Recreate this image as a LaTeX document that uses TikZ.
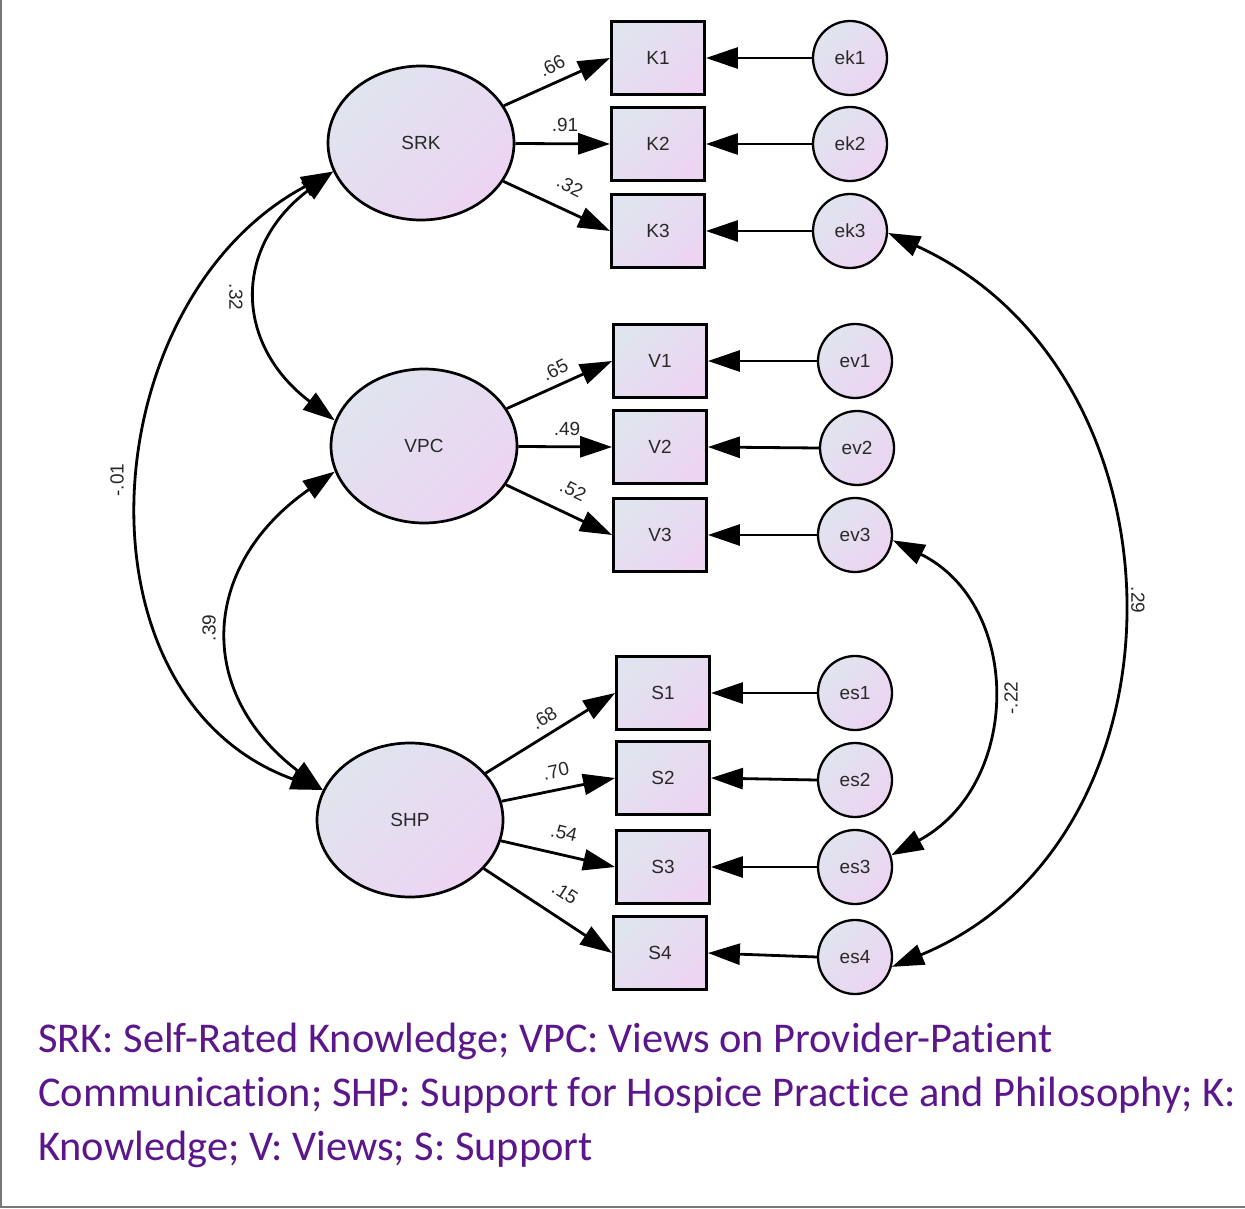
\documentclass[tikz,border=0pt]{standalone}
\usepackage{fontspec}
\setmainfont{Liberation Sans}
\newfontfamily\capfont[Ligatures=NoCommon]{Carlito}
\usetikzlibrary{arrows.meta,shapes.geometric}
\definecolor{fillA}{RGB}{224,228,238}
\definecolor{fillB}{RGB}{236,212,242}
\definecolor{captxt}{RGB}{92,22,140}
\definecolor{lbl}{RGB}{40,40,40}
\definecolor{framec}{RGB}{120,120,120}
\begin{document}
\begin{tikzpicture}[x=1pt,y=-1pt,
 every node/.style={font=\fontsize{19}{22}\selectfont, text=lbl},
 shadedfill/.style={left color=fillA,right color=fillB,shading angle=45},
 latent/.style={ellipse, draw, line width=2.7pt, minimum width=186pt, minimum height=154pt, inner sep=0pt, shadedfill},
 obs/.style={rectangle, draw, line width=2.8pt, minimum width=93pt, minimum height=73pt, inner sep=0pt, shadedfill},
 err/.style={circle, draw, line width=2.3pt, minimum size=74pt, inner sep=0pt, shadedfill},
 path1/.style={line width=2.8pt, -{Triangle[length=32pt,width=21pt]}},
 path2/.style={line width=2.8pt, {Triangle[length=32pt,width=21pt]}-{Triangle[length=32pt,width=21pt]}},
 coef/.style={inner sep=0pt},
 captext/.style={anchor=base west, inner sep=0pt, text=captxt, font=\capfont\fontsize{42.4}{54}\selectfont},
]
\useasboundingbox (0,0) rectangle (1245,1209);
\draw[framec, line width=2pt] (1,0) -- (1,1207) -- (1245,1207);

% latent variables
\node[latent] (SRK) at (421,143) {SRK};
\node[latent] (VPC) at (424,446) {VPC};
\node[latent] (SHP) at (410,820) {SHP};

% observed
\node[obs] (K1) at (658,58) {K1};
\node[obs] (K2) at (658,144) {K2};
\node[obs] (K3) at (658,231) {K3};
\node[obs] (V1) at (660,361) {V1};
\node[obs] (V2) at (660,447) {V2};
\node[obs] (V3) at (660,535) {V3};
\node[obs] (S1) at (663,693) {S1};
\node[obs] (S2) at (663,778) {S2};
\node[obs] (S3) at (663,867) {S3};
\node[obs] (S4) at (660,953) {S4};

% errors
\node[err] (ek1) at (850,58) {ek1};
\node[err] (ek2) at (850,144) {ek2};
\node[err] (ek3) at (850,231) {ek3};
\node[err] (ev1) at (855,361) {ev1};
\node[err] (ev2) at (857,448) {ev2};
\node[err] (ev3) at (855,535) {ev3};
\node[err] (es1) at (855,693) {es1};
\node[err] (es2) at (855,780) {es2};
\node[err] (es3) at (855,867) {es3};
\node[err] (es4) at (855,957) {es4};

% loadings
\draw[path1] (SRK) -- (K1.west);
\draw[path1] (SRK) -- (K2.west);
\draw[path1] (SRK) -- (K3.west);
\draw[path1] (VPC) -- (V1.west);
\draw[path1] (VPC) -- (V2.west);
\draw[path1] (VPC) -- (V3.west);
\draw[path1] (SHP) -- (S1.west);
\draw[path1] (SHP) -- (S2.west);
\draw[path1] (SHP) -- (S3.west);
\draw[path1] (SHP) -- (S4.west);

% error arrows
\foreach \e/\o in {ek1/K1,ek2/K2,ek3/K3,ev1/V1,ev2/V2,ev3/V3,es1/S1,es2/S2,es3/S3,es4/S4}
  \draw[path1] (\e.west) -- (\o.east);

% covariances
\draw[path2] (SRK.198) .. controls (232,248) and (235,345) .. (VPC.164);
\draw[path2] (VPC.196) .. controls (203,563) and (192,690) .. (SHP.161);
\draw[path2] (SRK.198) .. controls (92,300) and (66,697) .. (SHP.161);
\draw[path2] (ev3.352) .. controls (1023,605) and (1022,785) .. (es3.18);
\draw[path2] (ek3.357) .. controls (1195,373) and (1198,840) .. (es4.345);

% coefficient labels
\node[coef, rotate=28] (l66) at (552,66) {.66};
\node[coef] (l91) at (565,125) {.91};
\node[coef, rotate=-27] (l32b) at (570,186) {.32};
\node[coef, rotate=27] (l65) at (555,370) {.65};
\node[coef] (l49) at (567,429) {.49};
\node[coef, rotate=-26] (l52) at (573,490) {.52};
\node[coef, rotate=32] (l68) at (544,718) {.68};
\node[coef, rotate=12] (l70) at (556,771) {.70};
\node[coef, rotate=-13] (l54) at (564,833) {.54};
\node[coef, rotate=-33] (l15) at (565,893) {.15};
\node[coef, rotate=-90] (c32) at (236,297) {.32};
\node[coef, rotate=90] (c01) at (117,480) {-.01};
\node[coef, rotate=90] (c39) at (209,628) {.39};
\node[coef, rotate=90] (c22) at (1011,698) {-.22};
\node[coef, rotate=-90] (c29) at (1138,600) {.29};

% caption
\node[captext] (cap1) at (38,1052) {SRK: Self-Rated Knowledge; VPC: Views on Provider-Patient};
\node[captext] (cap2) at (38,1106) {Communication; SHP: Support for Hospice Practice and Philosophy; K:};
\node[captext] (cap3) at (38,1160) {Knowledge; V: Views; S: Support};
\end{tikzpicture}
\end{document}
